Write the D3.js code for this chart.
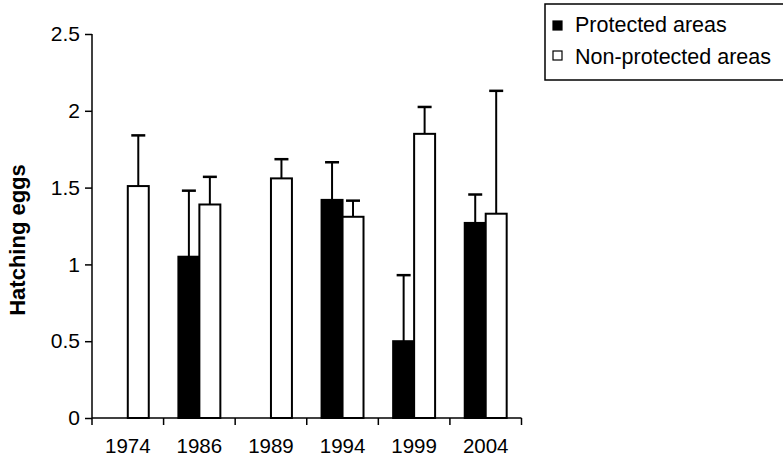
<!DOCTYPE html>
<html>
<head>
<meta charset="utf-8">
<script src="https://cdn.jsdelivr.net/npm/d3@7"></script>
<style>
  html, body { margin: 0; padding: 0; background: #fff; }
  svg { display: block; font-family: "Liberation Sans", Arial, sans-serif; }
</style>
</head>
<body>
<svg id="chart" width="783" height="466"></svg>
<script>
// Survey years
const years = ["1974", "1986", "1989", "1994", "1999", "2004"];
// Mean hatching eggs per nest (null = no data)
const protectedMeans = [null, 1.05, null, 1.42, 0.50, 1.27];
const nonProtectedMeans = [1.51, 1.39, 1.56, 1.31, 1.85, 1.33];
// Upper error (SE) above each mean
const protectedErr = [null, 0.43, null, 0.245, 0.43, 0.185];
const nonProtectedErr = [0.33, 0.18, 0.125, 0.105, 0.175, 0.80];
const yTicks = [0, 0.5, 1, 1.5, 2, 2.5];
const seriesNames = ["Protected areas", "Non-protected areas"];

const svg = d3.select("#chart");
const margin = { left: 92, right: 261.5, top: 34, bottom: 48 };
const W = 783, H = 466;
const plotW = W - margin.left - margin.right;
const plotH = H - margin.top - margin.bottom;

const x = d3.scaleBand().domain(years).range([0, plotW]).paddingInner(0).paddingOuter(0);
const y = d3.scaleLinear().domain([0, 2.5]).range([plotH, 0]);
const barW = x.bandwidth() * 0.293;

const g = svg.append("g").attr("transform", `translate(${margin.left},${margin.top})`);

const series = [
  { name: seriesNames[0], means: protectedMeans, errs: protectedErr, fill: "#000", offset: -1 },
  { name: seriesNames[1], means: nonProtectedMeans, errs: nonProtectedErr, fill: "#fff", offset: 0 }
];

series.forEach(s => {
  const data = years.map((yr, i) => ({ yr, v: s.means[i], e: s.errs[i] })).filter(d => d.v !== null);
  const cx = d => x(d.yr) + x.bandwidth() / 2 + s.offset * barW;
  // error bars (upper only)
  g.selectAll(null).data(data).enter().append("line")
    .attr("x1", d => cx(d) + barW / 2).attr("x2", d => cx(d) + barW / 2)
    .attr("y1", d => y(d.v)).attr("y2", d => y(d.v + d.e))
    .attr("stroke", "#000").attr("stroke-width", 2);
  g.selectAll(null).data(data).enter().append("line")
    .attr("x1", d => cx(d) + barW / 2 - 7).attr("x2", d => cx(d) + barW / 2 + 7)
    .attr("y1", d => y(d.v + d.e)).attr("y2", d => y(d.v + d.e))
    .attr("stroke", "#000").attr("stroke-width", 2.5);
  // bars
  g.selectAll(null).data(data).enter().append("rect")
    .attr("x", d => cx(d)).attr("width", barW)
    .attr("y", d => y(d.v)).attr("height", d => y(0) - y(d.v))
    .attr("fill", s.fill).attr("stroke", "#000").attr("stroke-width", 2);
});

// y axis
const yAxis = d3.axisLeft(y).tickValues(yTicks).tickSize(7).tickPadding(5).tickFormat(d3.format("~g"));
const ya = g.append("g").call(yAxis);
ya.select(".domain").attr("d", `M0,0V${plotH}`).attr("stroke-width", 1.5);
ya.selectAll(".tick line").attr("stroke-width", 1.5);
ya.selectAll("text").attr("font-size", 21).attr("fill", "#000");

// x axis with boundary ticks between categories
const xa = g.append("g").attr("transform", `translate(0,${plotH})`);
xa.append("line").attr("x1", 0).attr("x2", plotW).attr("stroke", "#000").attr("stroke-width", 1.5);
const bounds = years.map(yr => x(yr)).concat([plotW]);
xa.selectAll(null).data(bounds).enter().append("line")
  .attr("x1", d => d).attr("x2", d => d).attr("y1", 0).attr("y2", 7)
  .attr("stroke", "#000").attr("stroke-width", 1.5);
xa.selectAll(null).data(years).enter().append("text")
  .attr("x", d => x(d) + x.bandwidth() / 2).attr("y", 35)
  .attr("text-anchor", "middle").attr("font-size", 20.5).text(d => d);

// y axis title
svg.append("text")
  .attr("transform", `translate(25,240) rotate(-90)`)
  .attr("text-anchor", "middle").attr("font-size", 22).attr("font-weight", "bold")
  .text("Hatching eggs");

// legend
const lg = svg.append("g");
lg.append("rect").attr("x", 545).attr("y", 4).attr("width", 260).attr("height", 76)
  .attr("fill", "none").attr("stroke", "#000").attr("stroke-width", 1.5);
series.forEach((s, i) => {
  lg.append("rect").attr("x", 553).attr("y", 21 + i * 30).attr("width", 9).attr("height", 9)
    .attr("fill", s.fill).attr("stroke", "#000").attr("stroke-width", 1.2);
  lg.append("text").attr("x", 575).attr("y", 32 + i * 32).attr("font-size", 21.5).text(s.name);
});
</script>
</body>
</html>
